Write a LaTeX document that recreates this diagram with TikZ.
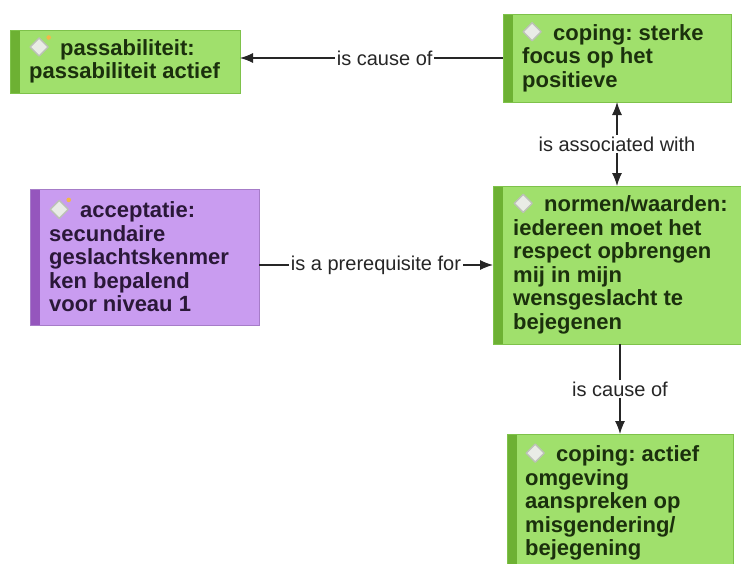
\documentclass[tikz,border=0pt]{standalone}
\usepackage{fontspec}
\setmainfont{Liberation Sans}
\usepackage{xcolor}
\definecolor{leaf}{HTML}{A0E06C}
\definecolor{leafbar}{HTML}{6DB133}
\definecolor{leafedge}{HTML}{7EC24A}
\definecolor{leafink}{HTML}{1B300D}
\definecolor{lilac}{HTML}{C99CF0}
\definecolor{lilacbar}{HTML}{9556BD}
\definecolor{lilacedge}{HTML}{A67CC8}
\definecolor{lilacink}{HTML}{2A1838}
\definecolor{iconedge}{HTML}{BCC1B7}
\definecolor{iconfill}{HTML}{E9ECE6}
\definecolor{icondot}{HTML}{F2B84B}
\usepackage{tikz}
\usetikzlibrary{arrows.meta, positioning, calc}

\newcommand{\conceptfont}{\fontsize{22}{23.5}\selectfont\bfseries\frenchspacing}
\newcommand{\relfont}{\fontsize{20}{22}\selectfont}
\newcommand{\cicon}{\tikz[baseline=0pt, x=1pt, y=1pt]{\useasboundingbox (0,0) rectangle (31,16);
  \draw[iconedge, fill=iconfill, line width=1.4pt, line join=round] (1,8.5) -- (10,17.5) -- (19,8.5) -- (10,-0.5) -- cycle;}}
\newcommand{\cicondot}{\tikz[baseline=0pt, x=1pt, y=1pt]{\useasboundingbox (0,0) rectangle (31,16);
  \draw[iconedge, fill=iconfill, line width=1.4pt, line join=round] (1,8.5) -- (10,17.5) -- (19,8.5) -- (10,-0.5) -- cycle;
  \fill[icondot] (19.5,18) circle (2.3);}}

\tikzset{
  concept/.style={rectangle, anchor=north west, inner sep=0pt, outer sep=0pt, line width=0.8pt},
  greenbox/.style={concept, draw=leafedge, fill=leaf,
    path picture={\fill[leafbar] (path picture bounding box.north west) rectangle ([xshift=10pt]path picture bounding box.south west);}},
  purplebox/.style={concept, draw=lilacedge, fill=lilac,
    path picture={\fill[lilacbar] (path picture bounding box.north west) rectangle ([xshift=10pt]path picture bounding box.south west);}},
  greentext/.style={anchor=west, align=left, inner sep=0pt, font=\conceptfont, text=leafink},
  purpletext/.style={anchor=west, align=left, inner sep=0pt, font=\conceptfont, text=lilacink},
  relation/.style={line width=1.1pt, black!85},
  rellabel/.style={fill=white, inner sep=2pt, font=\relfont, text=black!85}
}

\begin{document}
\begin{tikzpicture}[x=1pt, y=-1pt, >={Latex[length=13pt,width=10pt]}]
  \useasboundingbox (0,0) rectangle (741,563);
  \clip (0,0) rectangle (741,563);

  % Concept boxes
  \node[greenbox, minimum width=230pt, minimum height=63pt] (passab) at (10,30) {};
  \node[greenbox, minimum width=228pt, minimum height=88pt] (copsterk) at (503,14) {};
  \node[purplebox, minimum width=229pt, minimum height=136pt] (accept) at (30,189) {};
  \node[greenbox, minimum width=257pt, minimum height=158pt] (normen) at (493,186) {};
  \node[greenbox, minimum width=226pt, minimum height=138pt] (copactief) at (507,434) {};

  % Concept texts
  \node[greentext] (passab-t) at ([xshift=19pt]passab.west) {\cicondot passabiliteit:\\passabiliteit actief};
  \node[greentext] (copsterk-t) at ([xshift=19pt]copsterk.west) {\cicon coping: sterke\\focus op het\\positieve};
  \node[purpletext] (accept-t) at ([xshift=19pt]accept.west) {\cicondot acceptatie:\\secundaire\\geslachtskenmer\\ken bepalend\\voor niveau 1};
  \node[greentext] (normen-t) at ([xshift=20pt]normen.west) {\cicon normen/waarden:\\iedereen moet het\\respect opbrengen\\mij in mijn\\wensgeslacht te\\bejegenen};
  \node[greentext] (copactief-t) at ([xshift=18pt]copactief.west) {\cicon coping: actief\\omgeving\\aanspreken op\\misgendering/\\bejegening};

  % Relations
  \draw[relation, ->] (copsterk.west) -- (copsterk.west -| passab.east) node[rellabel, pos=0.45] {is cause of};
  \draw[relation, <->] (copsterk.south) -- (copsterk.south |- normen.north) node[rellabel, midway] {is associated with};
  \draw[relation, ->] (accept.east |- normen.west) -- (normen.west) node[rellabel, midway] {is a prerequisite for};
  \draw[relation, ->] (normen.south -| copactief.north) -- (copactief.north) node[rellabel, midway] {is cause of};
\end{tikzpicture}
\end{document}
